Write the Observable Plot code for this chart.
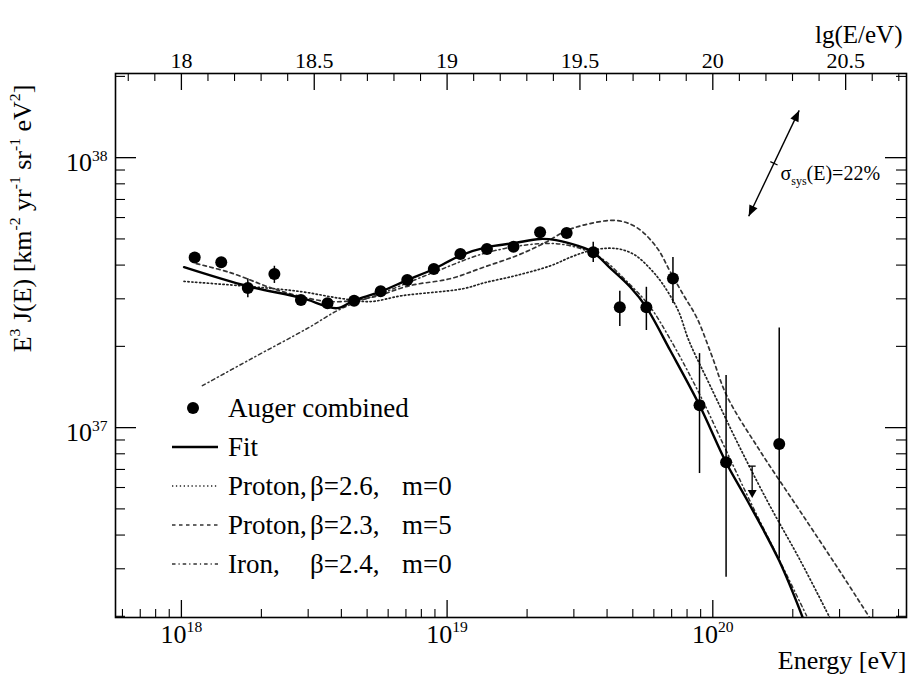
<!DOCTYPE html>
<html><head><meta charset="utf-8">
<script src="https://cdn.jsdelivr.net/npm/d3@7"></script>
<script src="https://cdn.jsdelivr.net/npm/@observablehq/plot@0.6"></script>
<style>body{margin:0;background:#fff} #chart{width:908px;height:688px}</style>
</head><body><div id="chart"></div>
<script>
// ---------------- data ----------------
const pointLgE = [18.05,18.15,18.25,18.35,18.45,18.55,18.65,18.75,18.85,18.95,19.05,19.15,19.25,19.35,19.45,19.55,19.65,19.75,19.85,19.95,20.05,20.25];
const pointFlux = [4.27e37,4.10e37,3.29e37,3.71e37,2.97e37,2.89e37,2.95e37,3.20e37,3.52e37,3.87e37,4.40e37,4.59e37,4.68e37,5.29e37,5.26e37,4.46e37,2.79e37,2.79e37,3.57e37,1.21e37,7.44e36,8.70e36];
const errLgE  = [18.25,18.35,19.55,19.65,19.75,19.85,19.95,20.05,20.25];
const errLow  = [3.03e37,3.42e37,4.09e37,2.37e37,2.29e37,2.88e37,6.76e36,2.79e36,3.26e36];
const errHigh = [3.56e37,3.96e37,4.86e37,3.20e37,3.31e37,4.27e37,1.88e37,1.56e37,2.34e37];
const limitLgE = [20.15];
const limitTop = [7.17e36];
const limitTip = [5.46e36];

const fitLgE  = [18.01,18.25,18.45,18.585,18.647,18.75,18.85,18.95,19.05,19.15,19.25,19.35,19.41,19.49,19.55,19.61,19.69,19.75,19.84,19.95,20.05,20.13,20.25,20.34];
const fitFlux = [3.93e37,3.34e37,3.03e37,2.77e37,2.95e37,3.19e37,3.52e37,3.87e37,4.34e37,4.66e37,4.82e37,5.00e37,4.95e37,4.72e37,4.46e37,3.93e37,3.31e37,2.79e37,1.93e37,1.21e37,7.43e36,5.37e36,3.21e36,1.96e36];

const p26LgE  = [18.01,18.26,18.45,18.60,18.71,18.83,19.06,19.14,19.26,19.39,19.47,19.54,19.61,19.66,19.71,19.76,19.81,19.87,19.91,19.99,20.10,20.21,20.33,20.44];
const p26Flux = [3.48e37,3.33e37,3.19e37,3.01e37,2.93e37,3.08e37,3.27e37,3.44e37,3.66e37,3.98e37,4.30e37,4.53e37,4.62e37,4.56e37,4.34e37,3.92e37,3.42e37,2.71e37,2.10e37,1.43e37,8.51e36,5.24e36,3.21e36,1.98e36];

const p23LgE  = [18.056,18.184,18.372,18.560,18.711,18.861,19.011,19.135,19.263,19.361,19.451,19.538,19.639,19.714,19.789,19.838,19.887,19.940,19.996,20.053,20.177,20.327,20.477,20.590];
const p23Flux = [4.05e37,3.75e37,3.21e37,2.93e37,3.03e37,3.36e37,3.56e37,3.92e37,4.34e37,4.80e37,5.37e37,5.70e37,5.85e37,5.51e37,4.65e37,3.81e37,3.13e37,2.55e37,1.85e37,1.31e37,8.22e36,4.93e36,2.95e36,1.98e36];

const feLgE  = [18.079,18.259,18.477,18.586,18.673,18.748,18.947,19.150,19.350,19.462,19.575,19.688,19.763,19.838,19.947,20.045,20.139,20.252,20.353];
const feFlux = [1.43e37,1.79e37,2.34e37,2.71e37,2.95e37,3.13e37,3.75e37,4.45e37,4.80e37,4.72e37,4.27e37,3.39e37,2.81e37,2.14e37,1.35e37,8.44e36,5.37e36,3.21e36,2.01e36];

const sysLgE  = [20.137, 20.327];
const sysFlux = [6.04e37, 1.49e38];
const sysLabel = "σ_{sys}(E)=22%";

const xTickLabels = ["10^{18}","10^{19}","10^{20}"];
const xTickValues = [1e18, 1e19, 1e20];
const yTickLabels = ["10^{37}","10^{38}"];
const yTickValues = [1e37, 1e38];
const topTickLabels = ["18","18.5","19","19.5","20","20.5"];
const topTickLg = [18, 18.5, 19, 19.5, 20, 20.5];

const legendCol1 = ["Auger combined","Fit","Proton,","Proton,","Iron,"];
const legendCol2 = ["","","β=2.6,","β=2.3,","β=2.4,"];
const legendCol3 = ["","","m=0","m=5","m=0"];

const xTitle = "Energy [eV]";
const topTitle = "lg(E/eV)";
const yTitle = "E^{3} J(E) [km^{-2} yr^{-1} sr^{-1} eV^{2}]";

// ---------------- layout ----------------
const FONT = "Liberation Serif, LiberationSerif, Times New Roman, Times, Tinos, Nimbus Roman, Nimbus Roman No9 L, FreeSerif, DejaVu Serif, Noto Serif, serif";
const W = 908, H = 688, mL = 115, mR = 2, mT = 73, mB = 71;
const innerW = W - mL - mR, innerH = H - mT - mB;
const xDomain = [10 ** 17.752, 10 ** 20.729];
const yDomain = [1.98e36, 2.05e38];

const rows = (xs, ys) => xs.map((x, i) => ({x: 10 ** x, y: ys[i]}));
const points = rows(pointLgE, pointFlux);
const errs = errLgE.map((x, i) => ({x: 10 ** x, lo: errLow[i], hi: errHigh[i]}));
const limits = limitLgE.map((x, i) => ({x: 10 ** x, top: limitTop[i], tip: limitTip[i]}));

const xMinor = [];
for (const k of [17, 18, 19, 20]) for (let m = 2; m <= 9; m++) { const v = m * 10 ** k; if (v >= xDomain[0] && v <= xDomain[1]) xMinor.push(v); }
const yMinor = [];
for (const k of [36, 37, 38]) for (let m = 2; m <= 9; m++) { const v = m * 10 ** k; if (v >= yDomain[0] && v <= yDomain[1]) yMinor.push(v); }
const topMinor = d3.range(178, 208).map(d => d / 10).filter(d => Math.abs(d * 2 - Math.round(d * 2)) > 1e-6).map(d => 10 ** d);
const topMajor = topTickLg.map(d => 10 ** d);

const curveStyle = {x: "x", y: "y", curve: "catmull-rom", clip: true, fill: "none"};
const styles = {
  fit: {stroke: "#000", strokeWidth: 2.4},
  p26: {stroke: "#222", strokeWidth: 1.7, strokeDasharray: "1.3 2.6"},
  p23: {stroke: "#333", strokeWidth: 1.7, strokeDasharray: "3.5 3.5"},
  fe:  {stroke: "#333", strokeWidth: 1.5, strokeDasharray: "3.5 3 1.2 3"}
};

function legendMark(index, scales, values, dims) {
  const g = d3.create("svg:g").attr("font-family", FONT).attr("font-size", 27).attr("fill", "black").attr("text-anchor", "start");
  const y0 = dims.marginTop + 335, step = 39;
  const lx1 = dims.marginLeft + 57, lx2 = dims.marginLeft + 103, tx = dims.marginLeft + 113;
  const keys = [null, "fit", "p26", "p23", "fe"];
  keys.forEach((k, i) => {
    const y = y0 + i * step;
    if (k === null) {
      g.append("circle").attr("cx", dims.marginLeft + 78).attr("cy", y).attr("r", 6).attr("fill", "black");
    } else {
      const s = styles[k];
      g.append("line").attr("x1", lx1).attr("x2", lx2).attr("y1", y).attr("y2", y)
        .attr("stroke", s.stroke).attr("stroke-width", s.strokeWidth).attr("stroke-dasharray", s.strokeDasharray || null);
    }
    g.append("text").attr("x", tx).attr("y", y).attr("dy", "0.34em").text(legendCol1[i]);
    if (legendCol2[i]) g.append("text").attr("x", dims.marginLeft + 195).attr("y", y).attr("dy", "0.34em").text(legendCol2[i]);
    if (legendCol3[i]) g.append("text").attr("x", dims.marginLeft + 287).attr("y", y).attr("dy", "0.34em").text(legendCol3[i]);
  });
  return g.node();
}

function annotationMark(index, scales, values, dims) {
  const sx = scales.x, sy = scales.y;
  const g = d3.create("svg:g");
  const x1 = sx(10 ** sysLgE[0]), y1 = sy(sysFlux[0]), x2 = sx(10 ** sysLgE[1]), y2 = sy(sysFlux[1]);
  const ang = Math.atan2(y2 - y1, x2 - x1);
  g.append("line").attr("x1", x1).attr("y1", y1).attr("x2", x2).attr("y2", y2).attr("stroke", "black").attr("stroke-width", 1.4);
  const head = (x, y, a) => {
    const L = 11, Wd = 4.5;
    const bx = x - L * Math.cos(a), by = y - L * Math.sin(a);
    const px = -Math.sin(a) * Wd, py = Math.cos(a) * Wd;
    g.append("path").attr("d", `M${x},${y}L${bx + px},${by + py}L${bx - px},${by - py}Z`).attr("fill", "black");
  };
  head(x2, y2, ang);
  head(x1, y1, ang + Math.PI);
  const mx = (x1 + x2) / 2, my = (y1 + y2) / 2, pxx = -Math.sin(ang) * 4, pyy = Math.cos(ang) * 4;
  g.append("line").attr("x1", mx - pxx).attr("y1", my - pyy).attr("x2", mx + pxx).attr("y2", my + pyy).attr("stroke", "black").attr("stroke-width", 1.2);
  limits.forEach(d => {
    const x = sx(d.x), yt = sy(d.top), yb = sy(d.tip);
    g.append("line").attr("x1", x - 3.5).attr("x2", x + 3.5).attr("y1", yt).attr("y2", yt).attr("stroke", "black").attr("stroke-width", 1.3);
    g.append("line").attr("x1", x).attr("x2", x).attr("y1", yt).attr("y2", yb - 6).attr("stroke", "black").attr("stroke-width", 1.3);
    g.append("path").attr("d", `M${x},${yb}L${x - 4.5},${yb - 8}L${x + 4.5},${yb - 8}Z`).attr("fill", "black");
  });
  return g.node();
}

const svg = Plot.plot({
  width: W, height: H,
  marginLeft: mL, marginRight: mR, marginTop: mT, marginBottom: mB,
  style: {fontFamily: FONT, background: "white", color: "black", overflow: "visible"},
  x: {type: "log", domain: xDomain, axis: null},
  y: {type: "log", domain: yDomain, axis: null},
  marks: [
    Plot.line(rows(p26LgE, p26Flux), {...curveStyle, ...styles.p26}),
    Plot.line(rows(p23LgE, p23Flux), {...curveStyle, ...styles.p23}),
    Plot.line(rows(feLgE, feFlux), {...curveStyle, ...styles.fe}),
    Plot.line(rows(fitLgE, fitFlux), {...curveStyle, ...styles.fit}),
    Plot.ruleX(errs, {x: "x", y1: "lo", y2: "hi", stroke: "black", strokeWidth: 1.5}),
    Plot.dot(points, {x: "x", y: "y", r: 6, fill: "black"}),
    annotationMark,
    Plot.tickX(xTickValues, {x: d => d, insetTop: innerH - 17, stroke: "black", strokeWidth: 1.3}),
    Plot.tickX(xMinor, {x: d => d, insetTop: innerH - 8, stroke: "black", strokeWidth: 1.1}),
    Plot.tickX(topMajor, {x: d => d, insetBottom: innerH - 17, stroke: "black", strokeWidth: 1.3}),
    Plot.tickX(topMinor, {x: d => d, insetBottom: innerH - 8, stroke: "black", strokeWidth: 1.1}),
    Plot.tickY(yTickValues, {y: d => d, insetRight: innerW - 21, stroke: "black", strokeWidth: 1.3}),
    Plot.tickY(yMinor, {y: d => d, insetRight: innerW - 10, stroke: "black", strokeWidth: 1.1}),
    Plot.tickY(yTickValues, {y: d => d, insetLeft: innerW - 21, stroke: "black", strokeWidth: 1.3}),
    Plot.tickY(yMinor, {y: d => d, insetLeft: innerW - 10, stroke: "black", strokeWidth: 1.1}),
    Plot.frame({stroke: "black", strokeWidth: 1.6}),
    Plot.text(xTickValues, {x: d => d, text: (d, i) => xTickLabels[i], frameAnchor: "bottom", textAnchor: "middle", dy: 25, fontSize: 26, fill: "black"}),
    Plot.text(topMajor, {x: d => d, text: (d, i) => topTickLabels[i], frameAnchor: "top", textAnchor: "middle", dy: -21, fontSize: 22, fill: "black"}),
    Plot.text(yTickValues, {y: d => d, text: (d, i) => yTickLabels[i], frameAnchor: "left", textAnchor: "end", dx: -8, dy: 5, fontSize: 26, fill: "black"}),
    Plot.text([xTitle], {text: d => d, frameAnchor: "bottom-right", textAnchor: "end", dy: 51, fontSize: 26, fill: "black"}),
    Plot.text([topTitle], {text: d => d, frameAnchor: "top-right", textAnchor: "end", dx: -4, dy: -48, fontSize: 25, fill: "black"}),
    Plot.text([yTitle], {text: d => d, frameAnchor: "left", textAnchor: "middle", rotate: -90, dx: -93, dy: -127, fontSize: 26, fill: "black"}),
    Plot.text([sysLabel], {x: Math.sqrt(10 ** sysLgE[0] * 10 ** sysLgE[1]), y: Math.sqrt(sysFlux[0] * sysFlux[1]), text: d => d, textAnchor: "start", dx: 6, dy: 10, fontSize: 20, fill: "black"}),
    legendMark
  ]
});

document.getElementById("chart").appendChild(svg);
svg.querySelectorAll("text").forEach(t => t.style.fontFamily = FONT);

const NS = "http://www.w3.org/2000/svg";
function richify(root) {
  root.querySelectorAll("text").forEach(t => {
    const s = t.textContent;
    if (!/[\^_]\{/.test(s)) return;
    const fs = parseFloat(getComputedStyle(t).fontSize) || 20;
    while (t.firstChild) t.removeChild(t.firstChild);
    const re = /([\^_])\{([^}]*)\}|([^\^_]+)/g;
    let m, shift = 0;
    while ((m = re.exec(s))) {
      const ts = document.createElementNS(NS, "tspan");
      if (m[3] !== undefined) {
        ts.textContent = m[3];
        if (shift) ts.setAttribute("dy", -shift);
        shift = 0;
      } else {
        const d = m[1] === "^" ? -0.4 * fs : 0.22 * fs;
        ts.textContent = m[2];
        ts.setAttribute("font-size", 0.6 * fs);
        ts.setAttribute("dy", d - shift);
        shift = d;
      }
      t.appendChild(ts);
    }
  });
}
richify(svg);
</script>
</body></html>
